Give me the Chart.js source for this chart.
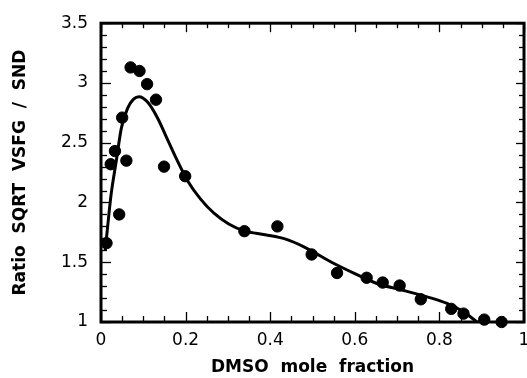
<!DOCTYPE html>
<html>
<head>
<meta charset="utf-8">
<script src="https://cdn.jsdelivr.net/npm/chart.js@4"></script>
<style>
html,body{margin:0;padding:0;background:#fff;}
canvas{display:block;}
</style>
</head>
<body>
<canvas id="c" width="527" height="378"></canvas>
<script>
// Measured data points
const pointX = [0.013, 0.023, 0.033, 0.043, 0.050, 0.060, 0.070, 0.091, 0.109, 0.130, 0.149, 0.199,
                0.339, 0.417, 0.498, 0.558, 0.628, 0.666, 0.706, 0.756, 0.828, 0.857, 0.906, 0.947];
const pointY = [1.66, 2.32, 2.43, 1.90, 2.71, 2.35, 3.13, 3.10, 2.99, 2.86, 2.30, 2.22,
                1.76, 1.80, 1.565, 1.41, 1.37, 1.33, 1.305, 1.19, 1.11, 1.07, 1.02, 1.00];
// Fitted curve
const curveX = [0.010, 0.024, 0.036, 0.048, 0.063, 0.077, 0.090, 0.110, 0.134, 0.153, 0.175, 0.205,
                0.235, 0.267, 0.302, 0.339, 0.388, 0.435, 0.482, 0.545, 0.600, 0.654, 0.709, 0.771,
                0.818, 0.857, 0.889];
const curveY = [1.60, 2.07, 2.345, 2.62, 2.79, 2.865, 2.885, 2.84, 2.705, 2.56, 2.39, 2.18,
                2.03, 1.91, 1.82, 1.762, 1.73, 1.695, 1.625, 1.50, 1.405, 1.32, 1.27, 1.21,
                1.155, 1.085, 1.0];
const xTickLabels = ['0', '0.2', '0.4', '0.6', '0.8', '1'];
const yTickLabels = ['1', '1.5', '2', '2.5', '3', '3.5'];
const xTitle = 'DMSO  mole  fraction';
const yTitle = 'Ratio  SQRT  VSFG  /  SND';

const pts = pointX.map((x, i) => ({x: x, y: pointY[i]}));
const crv = curveX.map((x, i) => ({x: x, y: curveY[i]}));

const frameTicks = {
  id: 'frameTicks',
  afterDraw(chart) {
    const ctx = chart.ctx, a = chart.chartArea;
    const xs = chart.scales.x, ys = chart.scales.y;
    ctx.save();
    ctx.strokeStyle = '#000';
    ctx.lineCap = 'butt';
    ctx.lineWidth = 1.3;
    for (let k = 0; k <= 20; k++) {
      const v = k * 0.05;
      const px = Math.round(xs.getPixelForValue(v)) + 0.5;
      const major = k % 4 === 0;
      const lb = major ? 10 : 6, lt = major ? 9 : 5;
      ctx.beginPath(); ctx.moveTo(px, a.bottom); ctx.lineTo(px, a.bottom - lb); ctx.stroke();
      ctx.beginPath(); ctx.moveTo(px, a.top); ctx.lineTo(px, a.top + lt); ctx.stroke();
    }
    for (let k = 0; k <= 25; k++) {
      const v = 1 + k * 0.1;
      const py = Math.round(ys.getPixelForValue(v)) + 0.5;
      const major = k % 5 === 0;
      const ll = major ? 10 : 6, lr = major ? 8 : 5;
      ctx.beginPath(); ctx.moveTo(a.left, py); ctx.lineTo(a.left + ll, py); ctx.stroke();
      ctx.beginPath(); ctx.moveTo(a.right, py); ctx.lineTo(a.right - lr, py); ctx.stroke();
    }
    ctx.lineWidth = 3;
    ctx.strokeRect(a.left, a.top, a.right - a.left, a.bottom - a.top);
    ctx.restore();
  }
};

new Chart(document.getElementById('c'), {
  type: 'scatter',
  data: {
    datasets: [
      {
        type: 'line',
        data: crv,
        borderColor: '#000',
        borderWidth: 3,
        pointRadius: 0,
        fill: false,
        cubicInterpolationMode: 'monotone',
        clip: false,
        order: 2
      },
      {
        data: pts,
        backgroundColor: '#000',
        borderColor: '#000',
        pointRadius: 5.7,
        pointHoverRadius: 5.7,
        clip: false,
        order: 1
      }
    ]
  },
  options: {
    responsive: false,
    animation: false,
    events: [],
    layout: {autoPadding: false, padding: {top: 21, right: 3, left: 0, bottom: 0}},
    plugins: {legend: {display: false}, tooltip: {enabled: false}},
    scales: {
      x: {
        type: 'linear', min: 0, max: 1,
        grid: {display: false, drawTicks: false},
        border: {display: false},
        ticks: {
          stepSize: 0.2, padding: 8, color: '#000',
          font: {family: 'DejaVu Sans', size: 17},
          maxRotation: 0,
          callback: (v) => { const i = Math.round(v / 0.2); return (Math.abs(v - i * 0.2) < 1e-6) ? xTickLabels[i] : ''; }
        },
        title: {display: true, text: xTitle, color: '#000', font: {family: 'DejaVu Sans', size: 17, weight: 'bold'}, padding: {top: 0, bottom: 0}},
        afterFit: (s) => { s.height = 56; s.paddingRight = 0; }
      },
      y: {
        type: 'linear', min: 1, max: 3.5,
        grid: {display: false, drawTicks: false},
        border: {display: false},
        ticks: {
          stepSize: 0.5, padding: 13, color: '#000',
          font: {family: 'DejaVu Sans', size: 17},
          callback: (v) => { const i = Math.round((v - 1) / 0.5); return (Math.abs(v - 1 - i * 0.5) < 1e-6) ? yTickLabels[i] : ''; }
        },
        title: {display: true, text: yTitle, color: '#000', font: {family: 'DejaVu Sans', size: 17, weight: 'bold'}, padding: {top: 10, bottom: 0}},
        afterFit: (s) => { s.width = 101; }
      }
    }
  },
  plugins: [frameTicks]
});
</script>
</body>
</html>
